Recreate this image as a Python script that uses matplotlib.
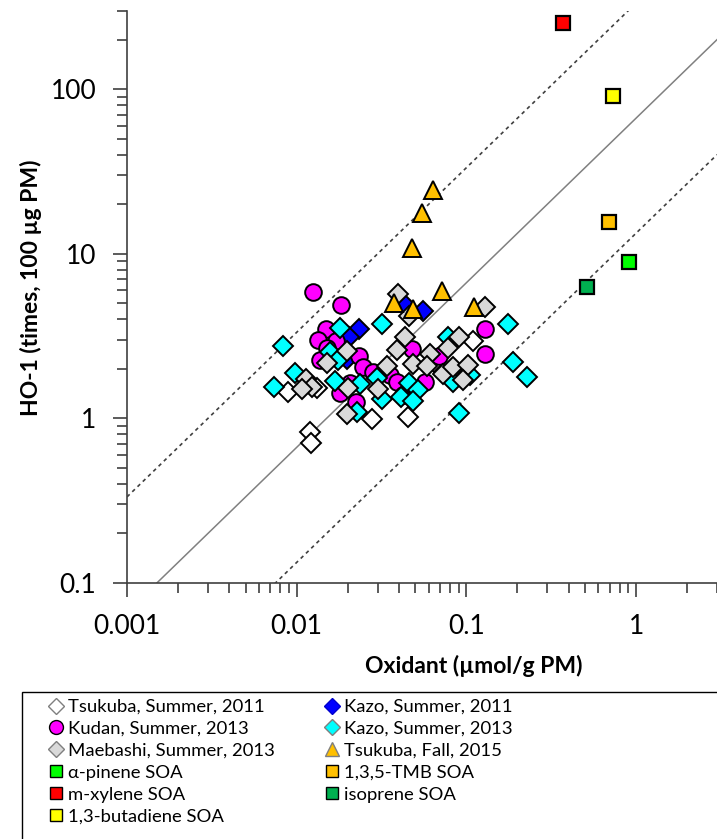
import numpy as np
import matplotlib
matplotlib.use('Agg')
import matplotlib.pyplot as plt
from matplotlib.lines import Line2D
from matplotlib.patches import Rectangle
from matplotlib.ticker import LogLocator, FuncFormatter, NullFormatter

plt.rcParams['font.family'] = ['Lato', 'DejaVu Sans']

# oxidant (umol/g PM) vs HO-1 induction (times, 100 ug PM)
tsukuba_2011_x = [0.0120, 0.0122, 0.0277, 0.0454, 0.109, 0.00885, 0.0131, 0.0645, 0.102]
tsukuba_2011_y = [0.83, 0.71, 0.99, 1.02, 2.96, 1.45, 1.52, 2.2, 1.85]

kazo_2011_x = [0.0434, 0.0554, 0.0233, 0.0203, 0.0198]
kazo_2011_y = [4.88, 4.48, 3.49, 3.12, 2.30]

kudan_2013_x = [0.0125, 0.0183, 0.0149, 0.129, 0.0134, 0.0171, 0.0150, 0.0137, 0.0233,
                0.0246, 0.0282, 0.0355, 0.0390, 0.0570, 0.0206, 0.0180, 0.0223, 0.0477,
                0.0690, 0.129, 0.0423]
kudan_2013_y = [5.9, 4.9, 3.49, 3.49, 2.99, 2.95, 2.66, 2.26, 2.39,
                2.05, 1.91, 1.83, 1.66, 1.66, 1.64, 1.42, 1.26, 2.64,
                2.38, 2.46, 1.39]

kazo_2013_x = [0.00827, 0.0317, 0.0181, 0.0157, 0.0176, 0.00977, 0.00735, 0.0168, 0.0236,
               0.0296, 0.0317, 0.0461, 0.0516, 0.0410, 0.0487, 0.0226, 0.0776, 0.0837,
               0.0908, 0.177, 0.189, 0.227, 0.105]
kazo_2013_y = [2.77, 3.77, 3.52, 2.54, 2.26, 1.89, 1.56, 1.69, 1.62,
               1.75, 1.32, 1.65, 1.49, 1.34, 1.28, 1.10, 3.13, 1.67,
               1.08, 3.77, 2.21, 1.79, 1.83]

maebashi_2013_x = [0.0397, 0.0461, 0.129, 0.0435, 0.0388, 0.0197, 0.0150, 0.0339, 0.0483,
                   0.0610, 0.0583, 0.0782, 0.0908, 0.0731, 0.0837, 0.1026, 0.0959, 0.01135,
                   0.01225, 0.0107, 0.0201, 0.0300, 0.0197]
maebashi_2013_y = [5.74, 4.18, 4.72, 3.13, 2.62, 2.57, 2.16, 2.08, 2.14,
                   2.46, 2.08, 2.66, 3.13, 1.86, 2.04, 2.11, 1.71, 1.73,
                   1.56, 1.50, 1.52, 1.50, 1.07]

tsukuba_2015_x = [0.0633, 0.0550, 0.0476, 0.0721, 0.0376, 0.0487, 0.111]
tsukuba_2015_y = [24.5, 17.7, 10.8, 5.96, 5.03, 4.65, 4.77]

soa_names = ['α-pinene SOA', '1,3,5-TMB SOA', 'm-xylene SOA', 'isoprene SOA', '1,3-butadiene SOA']
soa_x = [0.904, 0.695, 0.371, 0.515, 0.731]
soa_y = [8.93, 15.6, 251.0, 6.27, 90.6]
soa_colors = ['#00FF00', '#FFC000', '#FF0000', '#00B050', '#FFFF00']

# reference line HO-1 = k * oxidant, with 5-fold bands
slope_k = 66.7
band = 5.0

fig = plt.figure(figsize=(7.17, 8.39), dpi=100)
W, H = 717, 839
ax = fig.add_axes([127 / W, 1 - 583 / H, (717 - 127) / W, (583 - 10.7) / H])
ax.set_xscale('log')
ax.set_yscale('log')
ax.set_xlim(0.001, 3)
ax.set_ylim(0.1, 300)

xl = np.array([0.001, 3.0])
ax.plot(xl, slope_k * xl, color='#808080', lw=1.1, zorder=1)
ax.plot(xl, slope_k * band * xl, color='#404040', lw=1.2, ls=(0, (2.2, 2.2)), zorder=1)
ax.plot(xl, slope_k / band * xl, color='#404040', lw=1.2, ls=(0, (2.2, 2.2)), zorder=1)

ec = 'black'
ax.plot(tsukuba_2011_x, tsukuba_2011_y, 'D', ms=10, mfc='white', mec=ec, mew=1.4, ls='none', zorder=3)
ax.plot(kazo_2011_x, kazo_2011_y, 'D', ms=10, mfc='#0000FF', mec=ec, mew=1.4, ls='none', zorder=4)
ax.plot(kudan_2013_x, kudan_2013_y, 'o', ms=12, mfc='#FF00FF', mec=ec, mew=1.4, ls='none', zorder=5)
ax.plot(kazo_2013_x, kazo_2013_y, 'D', ms=10, mfc='#00FFFF', mec=ec, mew=1.4, ls='none', zorder=6)
ax.plot(maebashi_2013_x, maebashi_2013_y, 'D', ms=10, mfc='#D9D9D9', mec=ec, mew=1.4, ls='none', zorder=7)
ax.plot(tsukuba_2015_x, tsukuba_2015_y, '^', ms=13, mfc='#FFC000', mec=ec, mew=1.4, ls='none', zorder=8)
for sx, sy, c in zip(soa_x, soa_y, soa_colors):
    ax.plot([sx], [sy], 's', ms=10.5, mfc=c, mec=ec, mew=1.6, ls='none', zorder=9)

for side in ['top', 'right']:
    ax.spines[side].set_visible(False)
for side in ['left', 'bottom']:
    ax.spines[side].set_color('#404040')
    ax.spines[side].set_linewidth(1.2)

ax.xaxis.set_major_locator(LogLocator(base=10, numticks=10))
ax.yaxis.set_major_locator(LogLocator(base=10, numticks=10))
ax.xaxis.set_minor_locator(LogLocator(base=10, subs=np.arange(2, 10), numticks=20))
ax.yaxis.set_minor_locator(LogLocator(base=10, subs=np.arange(2, 10), numticks=20))
ax.xaxis.set_major_formatter(FuncFormatter(lambda v, p: '{:g}'.format(v)))
ax.yaxis.set_major_formatter(FuncFormatter(lambda v, p: '{:g}'.format(v)))
ax.xaxis.set_minor_formatter(NullFormatter())
ax.yaxis.set_minor_formatter(NullFormatter())
ax.tick_params(which='major', direction='out', length=10, width=1.2, color='#404040',
               labelsize=19, pad=12)
ax.tick_params(which='minor', direction='out', length=7, width=1.2, color='#404040')

ax.set_xlabel('Oxidant (µmol/g PM)', fontsize=16.5, fontweight='bold')
ax.set_ylabel('HO-1 (times, 100 µg PM)', fontsize=16.5, fontweight='bold')
ax.xaxis.set_label_coords((474 - 127) / 590, -(655 - 583) / 572.3)
ax.yaxis.set_label_coords(-(127 - 42) / 590, (583 - 288) / 572.3)

# legend entries, column by column
def mk(marker, fc, ms=9, mec='black', mew=1.0):
    return Line2D([], [], marker=marker, ls='none', ms=ms, mfc=fc, mec=mec, mew=mew)

col1 = [
    (mk('D', 'white', ms=8, mec='#7F7F7F'), 'Tsukuba, Summer, 2011'),
    (mk('o', '#FF00FF', ms=10), 'Kudan, Summer, 2013'),
    (mk('D', '#D9D9D9', ms=8, mec='#7F7F7F'), 'Maebashi, Summer, 2013'),
    (mk('s', soa_colors[0]), soa_names[0]),
    (mk('s', soa_colors[2]), soa_names[2]),
    (mk('s', soa_colors[4]), soa_names[4]),
]
col2 = [
    (mk('D', '#0000FF', ms=8, mec='#0000CC'), 'Kazo, Summer, 2011'),
    (mk('D', '#00FFFF', ms=8, mec='#7F7F7F'), 'Kazo, Summer, 2013'),
    (mk('^', '#FFC000', ms=10, mec='#7F7F7F'), 'Tsukuba, Fall, 2015'),
    (mk('s', soa_colors[1]), soa_names[1]),
    (mk('s', soa_colors[3]), soa_names[3]),
]
entries = col1 + col2
fig.legend([e[0] for e in entries], [e[1] for e in entries], ncol=2,
           loc='upper left', bbox_to_anchor=(50 / W, 1 - 699 / H),
           frameon=False, fontsize=13.3, handlelength=0.7, handletextpad=0.3,
           labelspacing=0.32, columnspacing=2.7, borderaxespad=0, borderpad=0)

fig.patches.append(Rectangle((22 / W, -0.05), 1.0, 0.05 + (839 - 692) / H,
                             transform=fig.transFigure, fill=False,
                             edgecolor='black', lw=1.0))

fig.savefig('out.png', dpi=100)
